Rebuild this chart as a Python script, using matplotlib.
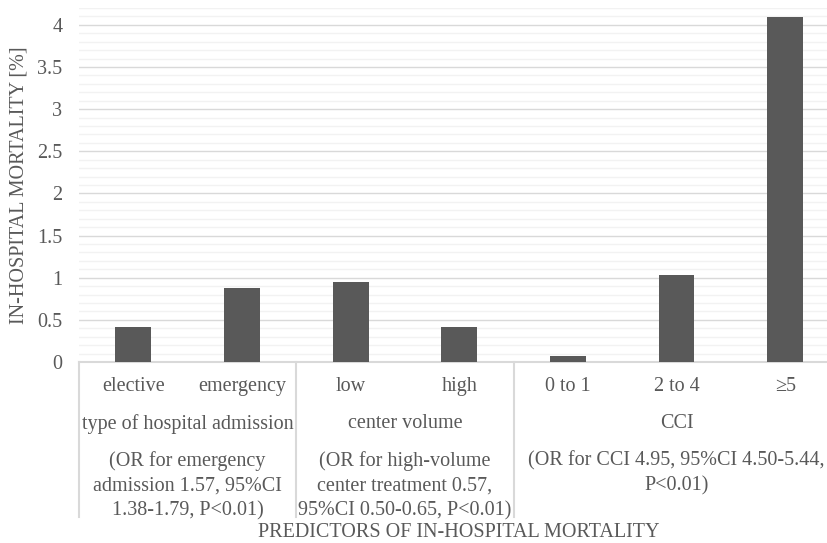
import matplotlib
matplotlib.use("Agg")
import matplotlib.pyplot as plt
from matplotlib.lines import Line2D
from matplotlib.ticker import MultipleLocator

# data
categories = ["elective", "emergency", "low", "high", "0 to 1", "2 to 4", "\u22655"]
mortality = [0.42, 0.88, 0.95, 0.42, 0.07, 1.03, 4.09]

groups = ["type of hospital admission", "center volume", "CCI"]
group_spans = [(0, 1), (2, 3), (4, 6)]
group_notes = [
    "(OR for emergency\nadmission 1.57, 95%CI\n1.38-1.79, P<0.01)",
    "(OR for high-volume\ncenter treatment 0.57,\n95%CI 0.50-0.65, P<0.01)",
    "(OR for CCI 4.95, 95%CI 4.50-5.44,\nP<0.01)",
]

plt.rcParams['font.family'] = ['Liberation Serif', 'DejaVu Serif']
txt = "#595959"
fs = 14.5

fig = plt.figure(figsize=(8.28, 5.43), dpi=100)
# plot area runs past the right edge of the picture (cropped in original)
ax = fig.add_axes([79 / 828, 181 / 543, 760.5 / 828, 354 / 543])

x = range(len(categories))
ax.bar(x, mortality, width=0.33, color="#595959", zorder=3)

ax.set_xlim(-0.5, len(categories) - 0.5)
ax.set_ylim(0, 4.2)
ax.yaxis.set_major_locator(MultipleLocator(0.5))
ax.yaxis.set_minor_locator(MultipleLocator(0.1))
ax.set_yticks([0, 0.5, 1, 1.5, 2, 2.5, 3, 3.5, 4])
ax.set_yticklabels(["0", "0.5", "1", "1.5", "2", "2.5", "3", "3.5", "4"])
ax.grid(axis="y", which="major", color="#d9d9d9", lw=1, zorder=0)
ax.grid(axis="y", which="minor", color="#f2f2f2", lw=1, zorder=0)
ax.tick_params(axis="y", which="both", length=0, labelsize=fs, colors=txt, pad=12)
ax.set_xticks([])

for s in ["top", "right", "left"]:
    ax.spines[s].set_visible(False)
ax.spines["bottom"].set_color("#d9d9d9")
ax.spines["bottom"].set_linewidth(1.5)

tr = ax.get_xaxis_transform()
for i, c in enumerate(categories):
    ax.text(i, -0.0706, c, transform=tr, ha="center", va="center",
            fontsize=fs, color=txt)

for (a, b), g, n in zip(group_spans, groups, group_notes):
    mid = (a + b) / 2
    ax.text(mid, -0.175, g, transform=tr, ha="center", va="center",
            fontsize=fs, color=txt)
    ax.text(mid, -0.251, n, transform=tr, ha="center", va="top",
            fontsize=fs, color=txt, linespacing=1.42)

# vertical separators of the category axis
for xs in [-0.5, 1.5, 3.5]:
    ax.add_line(Line2D([xs, xs], [0, -0.438], transform=tr, color="#d9d9d9",
                       lw=1.5, clip_on=False))

ax.set_ylabel("IN-HOSPITAL MORTALITY [%]", fontsize=fs, color=txt, labelpad=6)
ax.text(3, -0.482, "PREDICTORS OF IN-HOSPITAL MORTALITY", transform=tr,
        ha="center", va="center", fontsize=fs, color=txt)

fig.savefig("out.png", dpi=100)
